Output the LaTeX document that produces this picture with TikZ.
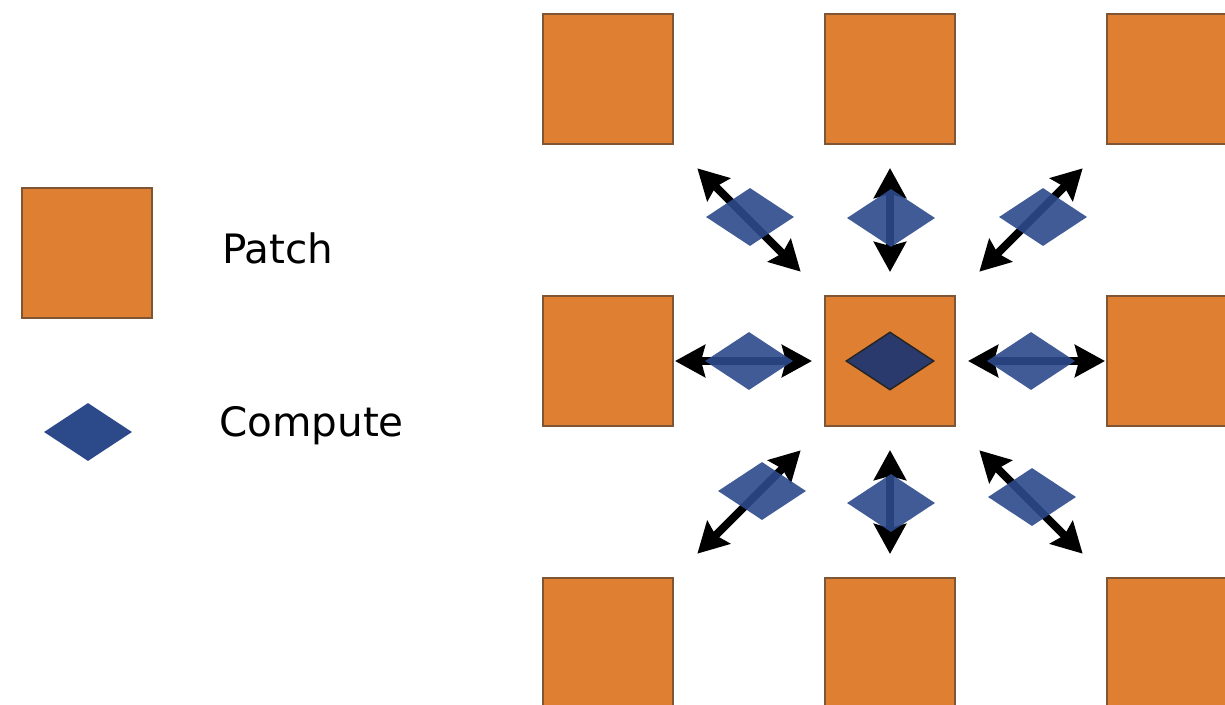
\documentclass[tikz,border=0pt]{standalone}
\usepackage{fontspec}
\setmainfont{DejaVu Sans}
\usetikzlibrary{shapes.geometric,arrows.meta}
\definecolor{patchorange}{HTML}{DF7F31}
\definecolor{patchedge}{HTML}{7E5535}
\definecolor{computeblue}{HTML}{2C4A8A}
\definecolor{computedark}{HTML}{2B3A6C}

\begin{document}
\begin{tikzpicture}[
  x=1pt, y=-1pt,
  patch/.style={rectangle,draw=patchedge,line width=2pt,fill=patchorange,
    minimum size=130pt,inner sep=0pt},
  compute/.style={diamond,fill=computeblue,fill opacity=0.9,
    minimum width=88pt,minimum height=58pt,inner sep=0pt},
  exchange/.style={line width=8pt,
    {Stealth[length=30pt,width=32pt,inset=4pt]}-{Stealth[length=30pt,width=32pt,inset=4pt]}},
  label/.style={font=\fontsize{40.5}{48}\selectfont,anchor=base west,inner sep=0pt}
]
  \clip (0,0) rectangle (1225,704);
  \fill[white] (0,0) rectangle (1225,704);

  % legend
  \node[patch] (legpatch) at (87,253) {};
  \node[compute,fill opacity=1] (legcompute) at (88,432) {};
  \node[label] (legpatchtext) at (222,263) {Patch};
  \node[label] (legcomputetext) at (219,436) {Compute};

  % patches
  \foreach \c/\x in {1/608,2/890,3/1172}
    \foreach \r/\y in {1/79,2/361,3/643}
      \node[patch] (p\r\c) at (\x,\y) {};

  % exchanges with the neighbours
  \draw[exchange,shorten <=33pt,shorten >=33pt] (p11.south east) -- (p22.north west);
  \draw[exchange,shorten <=23pt,shorten >=23pt] (p12.south) -- (p22.north);
  \draw[exchange,shorten <=33pt,shorten >=33pt] (p13.south west) -- (p22.north east);
  \draw[exchange,shorten <=1pt,shorten >=12pt] (p21.east) -- (p22.west);
  \draw[exchange,shorten <=12pt,shorten >=1pt] (p22.east) -- (p23.west);
  \draw[exchange,shorten <=33pt,shorten >=33pt] (p31.north east) -- (p22.south west);
  \draw[exchange,shorten <=23pt,shorten >=23pt] (p32.north) -- (p22.south);
  \draw[exchange,shorten <=33pt,shorten >=33pt] (p33.north west) -- (p22.south east);

  % compute on the boundaries
  \node[compute] (c11) at (750,217) {};
  \node[compute] (c12) at (891,218) {};
  \node[compute] (c13) at (1043,217) {};
  \node[compute] (c21) at (749,361) {};
  \node[compute] (c23) at (1031,361) {};
  \node[compute] (c31) at (762,491) {};
  \node[compute] (c32) at (891,503) {};
  \node[compute] (c33) at (1032,497) {};

  % compute inside the patch
  \node[compute,fill=computedark,fill opacity=1,draw=black!85,line width=1.5pt] (c22) at (p22) {};
\end{tikzpicture}
\end{document}
